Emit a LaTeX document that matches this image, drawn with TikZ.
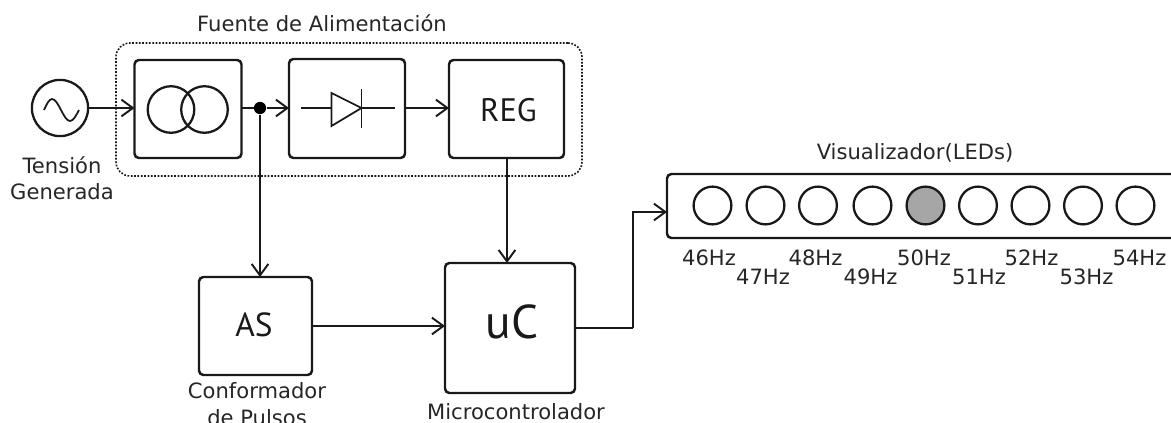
\documentclass[tikz,border=0pt]{standalone}
\usepackage{fontspec}
\setmainfont{DejaVu Sans}
\newfontfamily\blockfont{PT Sans}
\usetikzlibrary{positioning,arrows.meta}
\tikzstyle{block}   = [draw=black!90, line width=1.4pt, rounded corners=2.5pt, inner sep=0pt, outer sep=0pt]
\tikzstyle{group}   = [draw=black!90, dash pattern=on 1pt off 0.9pt, line width=0.9pt, rounded corners=8pt, inner sep=0pt, outer sep=0pt]
\tikzstyle{led}     = [circle, draw=black!90, line width=1.3pt, minimum size=21.5pt, inner sep=0pt, outer sep=0pt]
\tikzstyle{ring}    = [circle, draw=black!90, line width=1.3pt, minimum size=26.5pt, inner sep=0pt, outer sep=0pt]
\tikzstyle{label}   = [font=\fontsize{12}{15}\selectfont, text=black!85, inner sep=0pt, align=center]
\tikzstyle{flecha}  = [line width=1pt, draw=black!90, -{Straight Barb[length=6.5pt,width=9.5pt,line width=1.1pt]}]
\tikzstyle{linea}   = [line width=1pt, draw=black!90]

\begin{document}
\begin{tikzpicture}[x=0.02cm,y=-0.02cm]
	\useasboundingbox (0,0) rectangle (1171,423);

	\node[group, minimum width=466*0.02cm, minimum height=133*0.02cm] (fuente) at (349,109.5) {};
	\node[label] (tfuente) at (322,23) {Fuente de Alimentación};

	\node[ring, minimum size=32pt] (src) at (60,108) {};
	\draw[linea] (44,110) sin (52,99) cos (61,110) sin (70,121) cos (79,110);
	\node[label] (tsrc) at (62,178.5) {Tensión\\Generada};

	\node[block, minimum width=107*0.02cm, minimum height=98*0.02cm] (trafo) at (188,109) {};
	\node[ring] (trafoa) at (171,109.5) {};
	\node[ring] (trafob) at (204.5,109.5) {};

	\node[block, minimum width=116*0.02cm, minimum height=99*0.02cm] (rect) at (347,108.5) {};
	\coordinate (da) at (301,108);
	\coordinate (db) at (331.5,108);
	\coordinate (dc) at (361.5,108);
	\coordinate (dd) at (395,108);
	\coordinate (de) at (331.5,93);
	\coordinate (df) at (331.5,126);
	\coordinate (dg) at (361.5,89);
	\coordinate (dh) at (361.5,128);
	\draw[linea] (da) -- (db);
	\draw[linea] (de) -- (df) -- (dc) -- cycle;
	\draw[linea] (dg) -- (dh);
	\draw[linea] (dc) -- (dd);

	\node[block, minimum width=115*0.02cm, minimum height=98*0.02cm] (reg) at (506.5,109) {};
	\node[font=\blockfont\fontsize{18.5}{20}\selectfont, inner sep=0pt, text=black!90] (treg) at (508.5,110) {REG};

	\node[block, minimum width=113*0.02cm, minimum height=98*0.02cm] (as) at (255.5,326) {};
	\node[font=\blockfont\fontsize{19}{20}\selectfont, inner sep=0pt, text=black!90] (tasb) at (254,325) {AS};
	\node[label] (tas) at (257,404) {Conformador\\de Pulsos};

	\node[block, minimum width=130*0.02cm, minimum height=130*0.02cm] (uc) at (510,328) {};
	\node[font=\blockfont\fontsize{27}{28}\selectfont, inner sep=0pt, text=black!90] (tucb) at (512,322) {uC};
	\node[label] (tuc) at (516,412) {Microcontrolador};

	\node[block, minimum width=520*0.02cm, minimum height=64*0.02cm] (leds) at (927,206) {};
	\node[label] (tleds) at (915,153) {Visualizador(LEDs)};

	\node[led] (l46) at (712.5,205.5) {};
	\node[led] (l47) at (765.5,205.5) {};
	\node[led] (l48) at (818,205.5) {};
	\node[led] (l49) at (872.5,205.5) {};
	\node[led, fill=black!35] (l50) at (925.5,205.5) {};
	\node[led] (l51) at (978,205.5) {};
	\node[led] (l52) at (1030.5,205.5) {};
	\node[led] (l53) at (1083,205.5) {};
	\node[led] (l54) at (1135.5,205.5) {};

	\node[label] (t46) at (709,258) {46Hz};
	\node[label] (t47) at (763,277) {47Hz};
	\node[label] (t48) at (815.5,258) {48Hz};
	\node[label] (t49) at (870.5,277) {49Hz};
	\node[label] (t50) at (924,258) {50Hz};
	\node[label] (t51) at (979,277) {51Hz};
	\node[label] (t52) at (1031.5,258) {52Hz};
	\node[label] (t53) at (1086.5,277) {53Hz};
	\node[label] (t54) at (1139.5,258) {54Hz};

	\node[circle, fill=black, minimum size=7pt, inner sep=0pt] (nodo) at (260,108) {};
	\coordinate (regout) at (507,158);
	\coordinate (ucin) at (507,263);
	\coordinate (codo) at (633,328);
	\coordinate (ledin) at (667,212);

	\draw[flecha] (src.east) -- (trafo.west |- src.east);
	\draw[linea] (trafo.east |- nodo) -- (nodo);
	\draw[flecha] (nodo) -- (rect.west |- nodo);
	\draw[flecha] (rect.east |- nodo) -- (reg.west |- nodo);
	\draw[flecha] (nodo) -- (nodo |- as.north);
	\draw[flecha] (regout) -- (ucin);
	\draw[flecha, line width=1.2pt] (as.east) -- (as.east -| uc.west);
	\draw[linea, line width=1.2pt] (uc.east) -- (codo);
	\draw[flecha] (codo) |- (ledin);
\end{tikzpicture}
\end{document}
